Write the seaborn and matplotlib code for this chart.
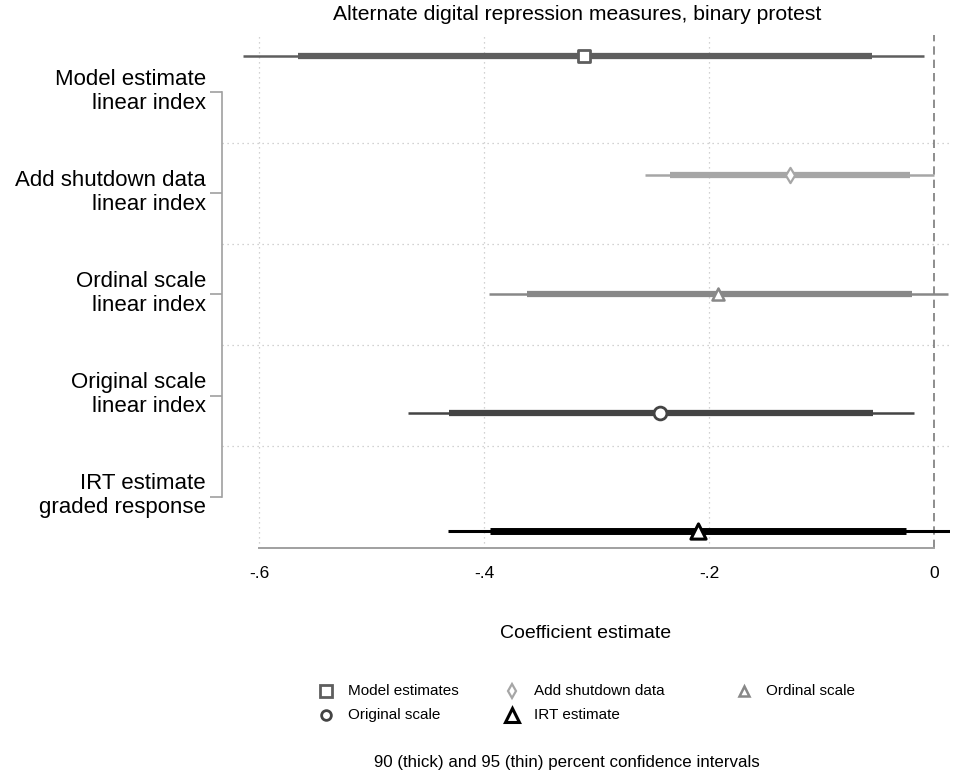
import numpy as np
import pandas as pd
import matplotlib
matplotlib.use("Agg")
import matplotlib.pyplot as plt
import matplotlib.transforms as mtransforms
import seaborn as sns

sns.set_theme(style="white")
plt.rcParams['font.family'] = ['Liberation Sans', 'DejaVu Sans']
plt.rcParams['text.color'] = 'black'
plt.rcParams['axes.labelcolor'] = 'black'

# ---- data ----
series = ["Model estimates", "Add shutdown data", "Ordinal scale", "Original scale", "IRT estimate"]
row_labels = ["Model estimate\nlinear index", "Add shutdown data\nlinear index",
              "Ordinal scale\nlinear index", "Original scale\nlinear index",
              "IRT estimate\ngraded response"]
point = [-0.311, -0.128, -0.192, -0.244, -0.210]
lo90 = [-0.565, -0.235, -0.362, -0.431, -0.395]
hi90 = [-0.055, -0.021, -0.020, -0.054, -0.025]
lo95 = [-0.614, -0.257, -0.396, -0.468, -0.432]
hi95 = [-0.009, 0.000, 0.012, -0.018, 0.014]
xticks = [-0.6, -0.4, -0.2, 0.0]
xticklabels = ["-.6", "-.4", "-.2", "0"]

# ---- styles ----
colors = ["#5e5e5e", "#a6a6a6", "#888888", "#444444", "#000000"]
markers = ["s", "d", "^", "o", "^"]
msize = [85, 60, 75, 85, 120]
mew = [2.0, 1.6, 1.8, 2.0, 2.2]
thin_lw = [1.8, 1.8, 1.8, 1.8, 2.2]
thick_lw = [4.5, 4.5, 4.5, 4.5, 5.0]
offsets = [-0.358, -0.180, 0.0, 0.172, 0.340]

df = pd.DataFrame({"series": series, "label": row_labels, "point": point,
                   "lo90": lo90, "hi90": hi90, "lo95": lo95, "hi95": hi95})
df["row"] = np.arange(1, len(df) + 1)
df["ypos"] = df["row"] + np.array(offsets)

W, H = 954, 778
fig = plt.figure(figsize=(W / 100, H / 100), dpi=100)
L, R, T, B = 222, 950, 35, 548
ax = fig.add_axes([L / W, 1 - B / H, (R - L) / W, (B - T) / H])

# gridlines
for x in xticks[:-1]:
    ax.axvline(x, color="#c4c4c4", lw=0.9, ls=(0, (1, 3)), zorder=0)
for y in [1.5, 2.5, 3.5, 4.5]:
    ax.axhline(y, color="#c4c4c4", lw=0.9, ls=(0, (1, 3)), zorder=0)
ax.axvline(0, color="#7a7a7a", lw=1.2, ls=(0, (5, 3)), zorder=1)

for i, r in df.iterrows():
    ax.hlines(r["ypos"], r["lo95"], r["hi95"], color=colors[i], lw=thin_lw[i], zorder=2)
    ax.hlines(r["ypos"], r["lo90"], r["hi90"], color=colors[i], lw=thick_lw[i], zorder=2)
    sns.scatterplot(x=[r["point"]], y=[r["ypos"]], ax=ax, marker=markers[i], s=msize[i],
                    color="white", edgecolor=colors[i], linewidth=mew[i], zorder=3,
                    legend=False)

ax.set_xlim(-0.6329, 0.0142)
ax.set_ylim(1 + (B - 92.3) / 101.1, 1 + (T - 92.3) / 101.1)

ax.set_xticks(xticks)
ax.set_xticklabels(xticklabels, fontsize=12.5)
ax.set_yticks(df["row"])
ax.set_yticklabels(df["label"], fontsize=16, linespacing=1.2, ha="right")
ax.tick_params(axis="x", bottom=False, length=0, pad=13)
ax.tick_params(axis="y", left=True, length=9, width=1.2, color="#a0a0a0", pad=2.5,
               direction="out")
shift = mtransforms.ScaledTranslation(0, 5 / 100, fig.dpi_scale_trans)
for t in ax.get_yticklabels():
    t.set_transform(t.get_transform() + shift)
for t in ax.get_xticklabels() + ax.get_yticklabels():
    t.set_color("black")

for s in ["top", "right"]:
    ax.spines[s].set_visible(False)
ax.spines["left"].set_bounds(1, 5)
ax.spines["left"].set_color("#a0a0a0")
ax.spines["left"].set_linewidth(1.2)
ax.spines["bottom"].set_bounds(-0.6, 0)
ax.spines["bottom"].set_color("#a0a0a0")
ax.spines["bottom"].set_linewidth(1.4)

ax.set_xlabel("Coefficient estimate", fontsize=14, labelpad=32, color="black")
ax.set_ylabel("")

fig.text(577 / W, 1 - 14 / H, "Alternate digital repression measures, binary protest",
         ha="center", va="center", fontsize=15.2, color="black")

# legend (manual, Stata-like layout)
lax = fig.add_axes([0, 0, 1, 1])
lax.set_xlim(0, W)
lax.set_ylim(H, 0)
lax.axis("off")
leg_pos = [(326, 691), (512, 691), (744, 691), (326, 715), (512, 715)]
leg_ms = [8, 7, 7, 7, 10]
for i, (mx, my) in enumerate(leg_pos):
    lax.plot([mx], [my], marker=markers[i], ms=leg_ms[i], mfc="white", mec=colors[i],
             mew=mew[i], ls="none")
    lax.text(mx + 22, my, series[i], ha="left", va="center", fontsize=11, color="black")
lax.text(567, 762, "90 (thick) and 95 (thin) percent confidence intervals",
         ha="center", va="center", fontsize=12.2, color="black")

fig.savefig("out.png", dpi=100)
